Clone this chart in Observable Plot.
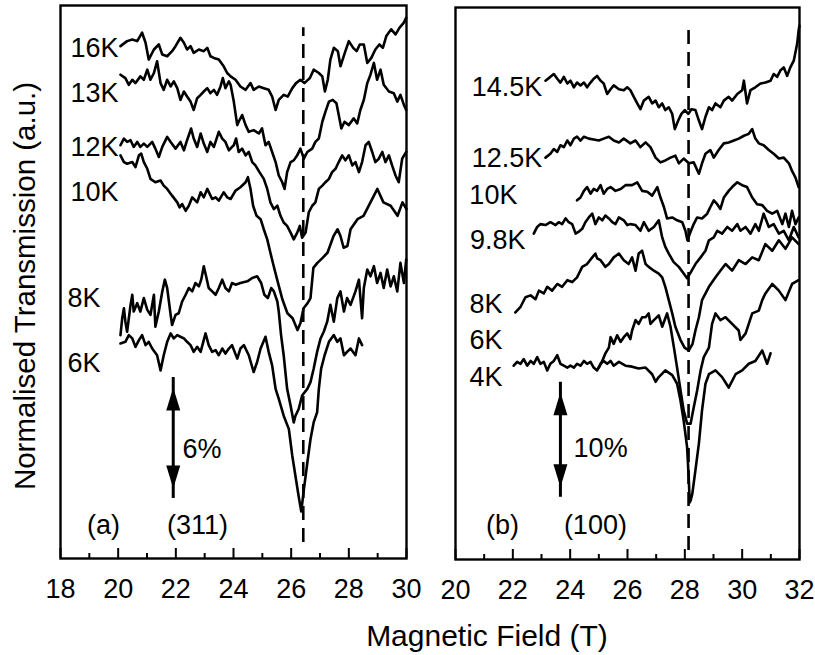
<!DOCTYPE html>
<html>
<head>
<meta charset="utf-8">
<script src="https://cdn.jsdelivr.net/npm/d3@7"></script>
<script src="https://cdn.jsdelivr.net/npm/@observablehq/plot@0.6"></script>
<style>
  html, body { margin: 0; padding: 0; background: #fff; }
  #wrap { position: relative; width: 815px; height: 655px; overflow: hidden; font-family: "Liberation Sans", Arial, Helvetica, sans-serif; }
  #panelA { position: absolute; left: 0; top: 0; }
  #panelB { position: absolute; left: 430px; top: 0; }
  #xlabel { position: absolute; left: 287px; width: 400px; top: 618px; text-align: center; font-size: 30px; line-height: 36px; color: #000; }
</style>
</head>
<body>
<div id="wrap">
  <div id="panelA"></div>
  <div id="panelB"></div>
  <div id="xlabel">Magnetic Field (T)</div>
</div>
<script>
// ---------- tick values ----------
const majorTicksA = [18, 20, 22, 24, 26, 28, 30];
const minorTicksA = [19, 21, 23, 25, 27, 29];
const majorTicksB = [20, 22, 24, 26, 28, 30, 32];
const minorTicksB = [21, 23, 25, 27, 29, 31];

// ---------- panel (a): (311), field (T) vs offset transmission (%) ----------
const a16K = [[20.08,30.5],[20.31,30.8],[20.49,30.9],[20.66,30.8],[20.83,31.3],[20.95,30.7],[21.06,29.7],[21.24,30.3],[21.41,30.6],[21.53,30.0],[21.70,29.9],[21.87,30.2],[21.99,30.5],[22.16,31.0],[22.28,30.7],[22.39,30.3],[22.51,30.5],[22.62,30.1],[22.80,30.3],[22.97,30.2],[23.09,30.4],[23.20,29.9],[23.32,29.8],[23.49,29.7],[23.66,29.3],[23.78,28.9],[23.90,28.7],[24.07,28.5],[24.24,28.1],[24.42,27.9],[24.59,28.3],[24.70,27.9],[24.88,28.1],[25.05,28.0],[25.22,27.9],[25.34,27.5],[25.46,26.7],[25.57,27.3],[25.74,27.6],[25.88,27.5],[26.04,28.0],[26.17,28.3],[26.32,28.5],[26.46,28.3],[26.65,28.6],[26.78,29.1],[26.96,28.9],[27.08,28.7],[27.17,27.8],[27.27,28.5],[27.36,29.7],[27.48,30.4],[27.62,30.2],[27.71,29.3],[27.86,30.1],[28.00,30.8],[28.15,30.4],[28.27,30.2],[28.38,30.6],[28.52,30.6],[28.64,29.5],[28.78,29.8],[28.92,30.3],[29.06,30.6],[29.18,30.4],[29.30,31.1],[29.47,31.5],[29.62,31.2],[29.76,31.6],[29.91,31.9],[29.99,32.2]];
const a13K = [[20.08,28.8],[20.25,28.6],[20.37,28.2],[20.49,28.5],[20.60,28.3],[20.77,28.7],[20.89,28.5],[21.01,29.1],[21.12,28.5],[21.24,28.9],[21.35,29.6],[21.47,28.3],[21.58,27.9],[21.70,28.5],[21.82,28.1],[21.93,28.4],[22.05,28.0],[22.16,27.3],[22.28,27.8],[22.39,27.5],[22.51,27.2],[22.62,26.7],[22.74,27.4],[22.86,27.6],[22.97,27.8],[23.09,28.0],[23.20,27.7],[23.32,27.9],[23.43,27.6],[23.55,28.1],[23.63,28.6],[23.72,28.0],[23.84,28.4],[23.90,28.2],[24.01,27.2],[24.13,25.8],[24.18,26.0],[24.30,26.4],[24.42,25.8],[24.53,25.4],[24.70,25.5],[24.88,25.3],[24.99,25.6],[25.11,24.6],[25.22,24.8],[25.34,24.2],[25.46,23.6],[25.57,22.8],[25.69,22.4],[25.77,22.0],[25.86,23.0],[25.98,23.6],[26.09,23.7],[26.21,24.0],[26.32,24.4],[26.44,23.8],[26.56,24.2],[26.73,24.4],[26.84,24.8],[26.96,25.0],[27.08,26.0],[27.19,26.6],[27.31,27.2],[27.44,27.3],[27.57,27.1],[27.65,26.4],[27.74,25.6],[27.85,26.0],[28.00,25.8],[28.17,26.2],[28.29,25.9],[28.40,26.7],[28.52,27.3],[28.64,28.3],[28.75,28.8],[28.87,29.5],[28.98,28.5],[29.10,29.1],[29.21,28.2],[29.39,27.8],[29.56,27.7],[29.68,27.2],[29.79,27.6],[29.91,27.0],[29.99,26.7]];
const a12K = [[20.08,24.6],[20.20,25.0],[20.31,24.8],[20.43,24.9],[20.54,24.5],[20.66,24.8],[20.77,24.5],[20.89,24.7],[21.01,24.5],[21.18,24.8],[21.29,24.4],[21.41,23.9],[21.53,24.5],[21.70,25.1],[21.82,24.8],[21.99,24.4],[22.16,24.8],[22.28,24.3],[22.39,24.9],[22.53,25.6],[22.62,25.0],[22.74,24.5],[22.86,25.3],[22.97,24.7],[23.09,24.2],[23.20,24.8],[23.32,24.5],[23.49,25.4],[23.61,25.0],[23.72,24.8],[23.84,24.3],[23.95,24.5],[24.01,24.6],[24.09,25.0],[24.18,24.2],[24.30,24.4],[24.42,24.0],[24.53,24.2],[24.65,23.6],[24.76,23.4],[24.90,23.0],[25.05,22.6],[25.17,22.0],[25.28,21.2],[25.40,20.8],[25.52,21.0],[25.63,20.4],[25.74,20.0],[25.86,19.8],[25.98,19.4],[26.09,19.0],[26.21,19.4],[26.30,19.8],[26.38,19.1],[26.50,19.4],[26.61,20.6],[26.73,21.0],[26.84,21.2],[26.96,22.0],[27.08,22.2],[27.19,22.4],[27.31,22.6],[27.42,23.0],[27.54,23.2],[27.65,23.6],[27.77,24.0],[27.88,23.7],[28.00,24.0],[28.12,23.4],[28.23,23.6],[28.35,23.0],[28.46,23.6],[28.58,24.6],[28.69,24.8],[28.81,24.2],[28.92,23.6],[29.04,23.8],[29.16,24.2],[29.27,23.6],[29.39,24.0],[29.50,23.4],[29.62,22.8],[29.73,22.4],[29.85,23.8],[29.99,24.2]];
const a10K = [[20.08,24.0],[20.20,23.6],[20.31,23.5],[20.49,23.6],[20.60,23.3],[20.72,24.0],[20.80,24.1],[20.89,23.6],[21.01,23.2],[21.12,22.6],[21.29,22.4],[21.47,22.5],[21.58,22.2],[21.70,22.0],[21.87,21.6],[22.05,21.2],[22.13,20.9],[22.22,21.1],[22.34,20.7],[22.45,21.0],[22.57,21.5],[22.74,21.2],[22.86,21.8],[22.97,21.5],[23.09,22.0],[23.26,21.4],[23.38,21.5],[23.49,21.3],[23.66,21.8],[23.78,21.5],[23.90,21.4],[24.07,21.9],[24.24,22.1],[24.42,22.4],[24.50,22.7],[24.59,22.0],[24.68,21.0],[24.80,20.4],[24.94,20.2],[25.05,19.6],[25.17,19.0],[25.28,18.2],[25.38,17.5],[25.53,16.5],[25.70,15.4],[25.87,14.6],[26.05,14.3],[26.22,13.6],[26.32,14.0],[26.43,14.9],[26.57,15.2],[26.67,15.5],[26.77,17.3],[26.91,17.6],[27.09,17.9],[27.26,18.2],[27.47,19.2],[27.61,19.6],[27.71,19.2],[27.82,18.5],[27.95,18.6],[28.06,19.6],[28.30,20.2],[28.51,20.4],[28.75,21.2],[28.99,22.0],[29.20,21.2],[29.45,21.0],[29.69,20.4],[29.86,21.2],[30.0,20.8]];
const a8K = [[20.08,13.3],[20.14,14.3],[20.20,14.9],[20.25,14.1],[20.31,13.5],[20.43,15.1],[20.49,15.7],[20.54,14.7],[20.66,15.2],[20.77,14.7],[20.89,15.5],[21.01,14.8],[21.12,14.5],[21.24,15.7],[21.29,13.8],[21.41,14.7],[21.53,15.9],[21.62,16.6],[21.70,16.1],[21.82,14.5],[21.87,13.9],[21.99,14.5],[22.10,14.6],[22.22,15.3],[22.34,15.7],[22.45,16.1],[22.57,15.9],[22.68,16.4],[22.80,16.2],[22.88,16.6],[22.97,17.4],[23.05,16.8],[23.14,16.1],[23.26,15.9],[23.38,15.7],[23.49,16.1],[23.61,16.6],[23.72,16.1],[23.84,15.9],[23.95,16.4],[24.07,16.3],[24.24,16.4],[24.48,16.5],[24.65,16.7],[24.82,16.8],[24.96,16.4],[25.07,15.7],[25.19,15.5],[25.31,16.1],[25.40,15.9],[25.52,15.3],[25.57,14.7],[25.65,13.3],[25.74,12.1],[25.86,10.1],[25.98,9.1],[26.09,8.1],[26.15,8.5],[26.26,8.9],[26.38,9.7],[26.56,10.1],[26.67,10.5],[26.78,11.3],[26.90,12.3],[27.02,13.1],[27.13,13.5],[27.25,14.1],[27.36,15.1],[27.48,14.1],[27.60,15.5],[27.71,15.9],[27.83,14.7],[27.94,15.5],[28.06,15.1],[28.23,15.9],[28.35,16.6],[28.46,14.3],[28.52,16.1],[28.64,17.2],[28.75,16.8],[28.87,17.4],[28.98,16.4],[29.10,17.0],[29.21,16.1],[29.33,17.2],[29.45,16.2],[29.56,16.8],[29.68,15.9],[29.79,17.6],[29.91,16.4],[29.99,17.8]];
const a6K = [[20.08,12.8],[20.25,12.9],[20.37,13.3],[20.49,13.1],[20.60,12.6],[20.72,13.0],[20.83,13.3],[20.95,12.7],[21.06,12.9],[21.18,12.5],[21.35,12.1],[21.47,11.2],[21.58,12.1],[21.70,12.9],[21.82,13.4],[21.93,13.1],[22.05,13.3],[22.16,13.2],[22.28,13.1],[22.39,12.9],[22.51,12.7],[22.62,12.3],[22.74,12.6],[22.86,12.3],[23.03,13.4],[23.14,12.7],[23.26,12.3],[23.38,12.4],[23.49,12.1],[23.61,12.5],[23.72,12.2],[23.84,12.5],[23.95,12.7],[24.13,11.9],[24.24,12.5],[24.36,12.7],[24.53,12.1],[24.70,11.1],[24.82,11.7],[24.94,12.5],[25.11,13.2],[25.22,12.3],[25.34,11.5],[25.46,10.1],[25.57,9.5],[25.74,8.5],[25.92,7.7],[26.04,6.1],[26.15,4.9],[26.26,3.7],[26.35,2.8],[26.44,4.1],[26.56,5.7],[26.67,7.1],[26.78,8.1],[26.90,8.7],[26.96,10.1],[27.04,11.3],[27.16,12.1],[27.31,12.9],[27.48,13.3],[27.60,12.9],[27.71,13.1],[27.83,12.1],[27.94,12.3],[28.06,12.5],[28.23,12.1],[28.35,13.1],[28.46,12.7]];
const curveNamesA = ["16K", "13K", "12K", "10K", "8K", "6K"];

// ---------- panel (b): (100) ----------
const b14_5K = [[23.14,50.4],[23.31,50.8],[23.43,51.1],[23.55,50.6],[23.66,50.2],[23.78,50.8],[23.90,50.1],[24.01,50.4],[24.13,49.7],[24.24,50.2],[24.36,49.9],[24.48,50.2],[24.59,49.7],[24.71,50.2],[24.82,50.6],[24.94,50.9],[25.06,50.4],[25.17,50.1],[25.29,49.0],[25.41,49.5],[25.52,49.9],[25.70,49.5],[25.87,49.4],[25.99,49.7],[26.10,49.4],[26.22,48.7],[26.34,48.0],[26.45,47.4],[26.57,48.3],[26.74,48.7],[26.86,48.0],[26.98,48.3],[27.09,47.6],[27.21,48.0],[27.32,47.3],[27.44,47.6],[27.56,46.9],[27.65,45.3],[27.77,46.2],[27.88,46.9],[28.00,47.3],[28.12,46.9],[28.23,47.4],[28.37,47.3],[28.49,46.2],[28.60,45.3],[28.72,46.6],[28.84,47.6],[28.95,47.3],[29.07,48.0],[29.24,47.6],[29.36,48.3],[29.53,48.7],[29.65,48.3],[29.83,49.0],[30.00,49.4],[30.06,50.4],[30.17,48.0],[30.29,49.4],[30.46,49.7],[30.64,50.1],[30.81,50.2],[30.99,50.4],[31.10,51.1],[31.22,50.8],[31.34,51.5],[31.45,51.8],[31.57,50.9],[31.68,51.8],[31.80,52.5],[31.92,54.3],[31.97,55.7],[32.0,56.2]];
const b12_5K = [[23.14,42.3],[23.31,42.7],[23.43,43.2],[23.55,42.9],[23.66,43.6],[23.78,43.4],[23.90,44.1],[24.01,43.6],[24.13,44.3],[24.24,44.5],[24.36,44.1],[24.48,44.5],[24.65,44.3],[24.82,44.2],[25.00,44.1],[25.17,44.3],[25.35,44.5],[25.52,44.1],[25.70,43.9],[25.87,44.3],[26.10,43.8],[26.28,44.1],[26.45,43.4],[26.63,43.9],[26.80,43.4],[26.98,42.3],[27.15,41.8],[27.32,42.0],[27.50,42.3],[27.67,42.5],[27.79,41.7],[27.96,42.2],[28.14,41.7],[28.31,41.8],[28.49,40.6],[28.60,41.7],[28.72,42.7],[28.89,43.1],[29.01,42.3],[29.18,43.1],[29.36,43.8],[29.53,43.9],[29.71,44.1],[29.88,44.3],[30.06,44.6],[30.23,44.8],[30.35,45.3],[30.46,44.3],[30.58,43.8],[30.75,43.6],[30.93,43.1],[31.10,42.7],[31.28,42.2],[31.45,42.3],[31.63,41.7],[31.74,40.9],[31.86,40.2],[31.97,39.2]];
const b10K = [[24.24,37.8],[24.36,38.1],[24.48,38.8],[24.59,39.2],[24.71,38.5],[24.82,39.0],[24.94,38.8],[25.06,39.4],[25.17,38.5],[25.29,39.0],[25.41,39.2],[25.58,38.8],[25.76,39.0],[25.93,39.4],[26.16,39.4],[26.34,39.7],[26.51,38.8],[26.69,38.7],[26.86,38.3],[27.04,39.2],[27.15,38.1],[27.27,37.1],[27.38,35.9],[27.56,36.0],[27.73,35.7],[27.91,35.5],[28.02,34.6],[28.09,33.6],[28.20,34.5],[28.31,35.3],[28.43,36.0],[28.60,35.9],[28.78,36.4],[28.89,37.1],[29.01,37.8],[29.13,37.4],[29.24,36.9],[29.36,38.1],[29.53,38.8],[29.65,39.2],[29.83,39.7],[30.00,39.4],[30.17,39.2],[30.35,38.1],[30.52,37.4],[30.70,37.3],[30.87,36.7],[31.05,36.4],[31.22,36.7],[31.40,35.3],[31.51,36.4],[31.63,35.0],[31.74,36.7],[31.86,35.3],[31.97,36.0]];
const b9_8K = [[22.73,34.3],[22.85,35.0],[22.96,35.3],[23.14,35.2],[23.31,35.5],[23.49,35.2],[23.60,35.5],[23.72,35.3],[23.84,35.9],[23.95,35.5],[24.07,35.3],[24.19,34.3],[24.30,34.5],[24.42,34.8],[24.53,35.5],[24.65,36.0],[24.77,36.4],[24.88,35.3],[25.00,36.0],[25.12,35.7],[25.23,36.2],[25.35,35.9],[25.47,35.5],[25.58,35.3],[25.70,36.0],[25.87,35.7],[25.99,35.2],[26.10,35.3],[26.28,35.2],[26.45,34.6],[26.57,35.5],[26.74,34.6],[26.92,35.0],[27.09,35.7],[27.21,33.9],[27.32,32.9],[27.44,32.2],[27.61,31.3],[27.79,30.8],[27.96,30.1],[28.08,29.6],[28.20,30.2],[28.37,31.1],[28.55,31.8],[28.72,32.5],[28.84,33.6],[29.01,33.9],[29.13,34.6],[29.30,34.3],[29.48,35.0],[29.65,34.6],[29.83,35.3],[29.94,34.6],[30.12,35.0],[30.29,34.3],[30.46,35.3],[30.58,34.6],[30.75,36.4],[30.93,35.0],[31.10,35.3],[31.28,34.3],[31.45,34.6],[31.63,33.6],[31.80,35.0],[31.97,33.9]];
const b8K = [[22.09,26.0],[22.27,26.6],[22.44,27.6],[22.62,27.8],[22.79,27.4],[22.91,28.3],[23.08,28.0],[23.20,28.7],[23.37,28.3],[23.55,29.0],[23.72,28.7],[23.90,29.4],[24.07,29.2],[24.24,29.7],[24.42,30.8],[24.59,31.1],[24.77,31.8],[24.88,32.2],[24.94,31.7],[25.06,31.5],[25.23,30.8],[25.35,31.1],[25.52,31.8],[25.70,32.2],[25.87,31.5],[26.04,31.1],[26.16,31.8],[26.28,30.4],[26.39,32.2],[26.51,32.5],[26.63,31.1],[26.74,30.8],[26.92,30.4],[27.09,30.1],[27.21,29.7],[27.32,28.7],[27.44,27.3],[27.56,25.9],[27.67,24.5],[27.85,23.1],[27.99,22.3],[28.14,22.0],[28.27,22.7],[28.37,24.1],[28.49,25.5],[28.60,27.3],[28.84,28.7],[29.07,29.7],[29.24,30.4],[29.42,31.1],[29.65,30.4],[29.88,31.5],[30.12,31.1],[30.35,31.8],[30.58,31.5],[30.81,33.2],[31.05,32.5],[31.28,33.6],[31.51,32.7],[31.74,33.9],[31.97,33.2]];
const b6K = [[25.00,20.2],[25.12,20.9],[25.23,21.7],[25.35,22.3],[25.41,23.4],[25.52,22.7],[25.64,23.6],[25.76,22.9],[25.87,23.4],[25.99,23.8],[26.10,23.2],[26.16,24.1],[26.28,25.2],[26.39,24.8],[26.51,25.5],[26.63,25.5],[26.74,25.9],[26.80,24.8],[26.92,25.2],[27.09,25.7],[27.21,24.5],[27.38,25.9],[27.50,24.5],[27.62,22.3],[27.73,20.2],[27.85,17.8],[27.96,15.7],[28.08,14.3],[28.20,14.3],[28.31,16.0],[28.43,17.8],[28.55,19.9],[28.66,21.3],[28.84,22.3],[28.95,24.8],[29.07,25.9],[29.24,25.2],[29.42,25.5],[29.65,24.8],[29.88,24.1],[29.94,23.1],[30.12,23.8],[30.35,25.9],[30.58,26.2],[30.70,27.3],[30.81,28.0],[31.05,29.0],[31.28,28.3],[31.51,27.3],[31.74,29.0],[31.97,29.4]];
const b4K = [[22.03,20.4],[22.15,20.8],[22.27,20.6],[22.38,21.1],[22.50,20.4],[22.62,20.9],[22.73,20.6],[22.85,21.3],[22.96,20.6],[23.08,20.8],[23.20,19.9],[23.31,20.6],[23.43,20.9],[23.55,21.5],[23.66,20.6],[23.78,20.4],[23.90,20.2],[24.01,20.4],[24.13,20.2],[24.24,20.6],[24.36,20.4],[24.48,20.9],[24.59,20.6],[24.71,20.8],[24.82,20.2],[24.94,19.9],[25.06,20.6],[25.17,20.9],[25.29,20.6],[25.41,20.9],[25.52,20.4],[25.70,20.8],[25.93,20.4],[26.16,20.3],[26.39,20.1],[26.63,20.2],[26.86,19.5],[26.98,18.7],[27.09,19.2],[27.32,19.9],[27.56,19.4],[27.73,18.5],[27.85,16.7],[27.96,14.6],[28.08,11.8],[28.14,8.3],[28.17,6.0],[28.20,6.2],[28.26,6.9],[28.37,9.4],[28.49,12.2],[28.60,15.7],[28.72,18.5],[28.84,19.5],[29.07,19.9],[29.30,19.2],[29.53,18.1],[29.77,19.5],[30.00,19.9],[30.23,20.6],[30.46,20.9],[30.70,22.0],[30.87,20.6],[30.99,21.7]];
const curveNamesB = ["14.5K", "12.5K", "10K", "9.8K", "8K", "6K", "4K"];

// ---------- tables built from the arrays ----------
const rowsOf = (names, series) => names.flatMap((name, i) => series[i].map(([x, y]) => ({name, x, y})));
const rowsA = rowsOf(curveNamesA, [a16K, a13K, a12K, a10K, a8K, a6K]);
const rowsB = rowsOf(curveNamesB, [b14_5K, b12_5K, b10K, b9_8K, b8K, b6K, b4K]);

const FONT = "'Liberation Sans', Arial, Helvetica, sans-serif";
const FS = 27;
const LW = 2.6;

// filled, elongated arrow heads (tip at the anchor point)
const headUp = {draw(c) { c.moveTo(0, 0); c.lineTo(7, 23); c.lineTo(-7, 23); c.closePath(); }};
const headDown = {draw(c) { c.moveTo(0, 0); c.lineTo(7, -23); c.lineTo(-7, -23); c.closePath(); }};

function doubleArrow(x, lo, hi) {
  return [
    Plot.ruleX([{x, lo, hi}], {x: "x", y1: "lo", y2: "hi", stroke: "#000", strokeWidth: 3, insetTop: 10, insetBottom: 10}),
    Plot.dot([{x, y: hi}], {x: "x", y: "y", symbol: headUp, fill: "#000", stroke: "none"}),
    Plot.dot([{x, y: lo}], {x: "x", y: "y", symbol: headDown, fill: "#000", stroke: "none"})
  ];
}

// inward ticks on the bottom edge: full-height rules cut down by insetTop
function innerTicks(major, minor, frameH) {
  return [
    Plot.ruleX(major, {stroke: "#000", strokeWidth: 2, insetTop: frameH - 10}),
    Plot.ruleX(minor, {stroke: "#000", strokeWidth: 2, insetTop: frameH - 5})
  ];
}

// ---------- panel (a) ----------
const plotA = Plot.plot({
  width: 430, height: 610,
  marginLeft: 60, marginRight: 24, marginTop: 5, marginBottom: 52,
  x: {domain: [18, 30], label: null},
  y: {domain: [0, 32.92], axis: null},
  style: {fontFamily: FONT, fontSize: FS + "px", color: "#000", background: "#fff", overflow: "visible"},
  marks: [
    ...innerTicks(majorTicksA, minorTicksA, 553),
    Plot.axisX({ticks: majorTicksA, tickSize: 0, tickPadding: 20, fontSize: FS, tickFormat: d => String(d), label: null}),
    Plot.ruleX([26.42], {y1: 0.95, y2: 31.6, stroke: "#000", strokeWidth: 2.6, strokeDasharray: "14,8"}),
    Plot.line(rowsA, {x: "x", y: "y", z: "name", stroke: "#000", strokeWidth: LW, strokeLinejoin: "round"}),
    Plot.frame({stroke: "#000", strokeWidth: 2.4}),
    Plot.text([
      {t: "16K", x: 20.01, y: 30.36}, {t: "13K", x: 20.01, y: 27.68},
      {t: "12K", x: 20.01, y: 24.46}, {t: "10K", x: 20.01, y: 21.79},
      {t: "8K", x: 19.39, y: 15.5}, {t: "6K", x: 19.39, y: 11.6}
    ], {x: "x", y: "y", text: "t", textAnchor: "end", fontSize: FS, fill: "#000"}),
    ...doubleArrow(21.91, 4.17, 10.18),
    Plot.text(["6%"], {x: 22.23, y: 6.5, text: d => d, textAnchor: "start", fontSize: FS, fill: "#000"}),
    Plot.text(["(a)"], {x: 19.49, y: 1.96, text: d => d, fontSize: FS, fill: "#000"}),
    Plot.text(["(311)"], {x: 22.75, y: 1.96, text: d => d, fontSize: FS, fill: "#000"}),
    Plot.text(["Normalised Transmission (a.u.)"], {frameAnchor: "left", textAnchor: "middle", rotate: -90, dx: -35, dy: 4, text: d => d, fontSize: 29.5, fill: "#000"})
  ]
});
document.getElementById("panelA").appendChild(plotA);

// ---------- panel (b) ----------
const plotB = Plot.plot({
  width: 385, height: 610,
  marginLeft: 25, marginRight: 16, marginTop: 7, marginBottom: 51,
  x: {domain: [20, 32], label: null},
  y: {domain: [0, 58.1], axis: null},
  style: {fontFamily: FONT, fontSize: FS + "px", color: "#000", background: "#fff", overflow: "visible"},
  marks: [
    ...innerTicks(majorTicksB, minorTicksB, 552),
    Plot.axisX({ticks: majorTicksB, tickSize: 0, tickPadding: 20, fontSize: FS, tickFormat: d => String(d), label: null}),
    Plot.ruleX([28.13], {y1: 0.95, y2: 56.4, stroke: "#000", strokeWidth: 2.6, strokeDasharray: "14,8"}),
    Plot.line(rowsB, {x: "x", y: "y", z: "name", stroke: "#000", strokeWidth: LW, strokeLinejoin: "round"}),
    Plot.frame({stroke: "#000", strokeWidth: 2.4}),
    Plot.text([
      {t: "14.5K", x: 23.03, y: 49.7}, {t: "12.5K", x: 23.03, y: 42.2},
      {t: "10K", x: 22.16, y: 38.3}, {t: "9.8K", x: 22.44, y: 33.6},
      {t: "8K", x: 21.64, y: 26.9}, {t: "6K", x: 21.64, y: 23.05},
      {t: "4K", x: 21.64, y: 19.16}
    ], {x: "x", y: "y", text: "t", textAnchor: "end", fontSize: FS, fill: "#000"}),
    ...doubleArrow(23.66, 7.6, 17.6),
    Plot.text(["10%"], {x: 24.12, y: 11.7, text: d => d, textAnchor: "start", fontSize: FS, fill: "#000"}),
    Plot.text(["(b)"], {x: 21.64, y: 3.58, text: d => d, fontSize: FS, fill: "#000"}),
    Plot.text(["(100)"], {x: 24.88, y: 3.58, text: d => d, fontSize: FS, fill: "#000"})
  ]
});
document.getElementById("panelB").appendChild(plotB);
</script>
</body>
</html>
